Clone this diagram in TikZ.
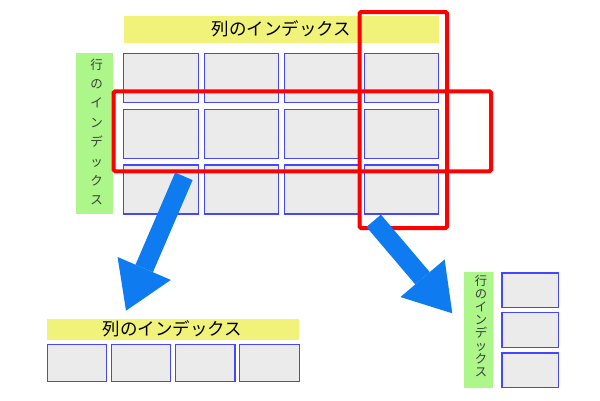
\documentclass[tikz,border=0pt]{standalone}
\usepackage{fontspec}
\setmainfont{Noto Sans CJK JP}
\usetikzlibrary{arrows.meta}
\definecolor{cellfill}{RGB}{235,235,235}
\definecolor{cellline}{RGB}{70,70,255}
\definecolor{banyellow}{RGB}{240,242,122}
\definecolor{bangreen}{RGB}{172,246,138}
\definecolor{arrowblue}{RGB}{14,124,240}
\definecolor{hired}{RGB}{255,0,0}
\definecolor{vtext}{RGB}{60,60,60}
\begin{document}
\begin{tikzpicture}[x=1pt,y=-1pt,
  cellbig/.style={draw=cellline,fill=cellfill,line width=1.2pt,inner sep=0pt,outer sep=0pt,minimum width=74.3pt,minimum height=49pt},
  cellsmall/.style={draw=cellline,fill=cellfill,line width=1.2pt,inner sep=0pt,outer sep=0pt,minimum width=59.4pt,minimum height=37.1pt},
  cellside/.style={draw=cellline,fill=cellfill,line width=1.2pt,inner sep=0pt,outer sep=0pt,minimum width=56.8pt,minimum height=34.8pt},
  ybanner/.style={fill=banyellow,inner sep=0pt,outer sep=0pt},
  gbanner/.style={fill=bangreen,inner sep=0pt,outer sep=0pt},
  hilite/.style={draw=hired,line width=4pt,rounded corners=1.5pt,inner sep=0pt,outer sep=0pt},
  bigarrow/.style={draw=arrowblue,line width=19pt,-{Triangle[width=58pt,length=46pt,line width=0pt]}},
  vlabel/.style={text=vtext,align=center,inner sep=0pt}
]
\useasboundingbox[fill=white] (0,0) rectangle (600,400);

% top column banner
\node[ybanner,minimum width=315pt,minimum height=27pt] (colban) at (281.5,29.5) {};
\node[inner sep=0pt,font=\fontsize{17.5}{20}\selectfont] (coltxt) at (281.5,28.5) {列のインデックス};

% top row banner
\node[gbanner,minimum width=37pt,minimum height=161pt] (rowban) at (94.5,133.5) {};
\node[vlabel,font=\fontsize{12.5}{19.4}\selectfont] (rowtxt) at (96.5,132) {行\\の\\イ\\ン\\デ\\ッ\\ク\\ス};

% main grid
\foreach \c/\x in {1/161,2/241.3,3/321.5,4/401.7}{
  \foreach \r/\y in {1/77.7,2/133.7,3/189.5}{
    \node[cellbig] (g\r\c) at (\x,\y) {};
  }
}

% highlights
\node[hilite,minimum width=377.3pt,minimum height=80pt] (rowhl) at (302.35,131.3) {};
\node[hilite,minimum width=87.5pt,minimum height=216pt] (colhl) at (403.25,120) {};

% bottom-left: column index result
\node[ybanner,minimum width=251.7pt,minimum height=21pt] (colban2) at (173.15,329.5) {};
\node[inner sep=0pt,font=\fontsize{17.5}{20}\selectfont] (coltxt2) at (172.5,329) {列のインデックス};
\foreach \c/\x in {1/77,2/141.15,3/205.35,4/269.5}{
  \node[cellsmall] (b\c) at (\x,363.15) {};
}

% bottom-right: row index result
\node[gbanner,minimum width=29.3pt,minimum height=115.4pt] (rowban2) at (478.65,330) {};
\node[vlabel,font=\fontsize{12.3}{13.1}\selectfont] (rowtxt2) at (481,326) {行\\の\\イ\\ン\\デ\\ッ\\ク\\ス};
\foreach \r/\y in {1/290.3,2/330.15,3/370.3}{
  \node[cellside] (s\r) at (530.3,\y) {};
}

% arrows
\coordinate (a1s) at (183.9,176.3);
\coordinate (a1e) at (126,310.7);
\coordinate (a2s) at (373.7,220.8);
\coordinate (a2e) at (452.3,313.3);
\draw[bigarrow] (a1s) -- (a1e);
\draw[bigarrow] (a2s) -- (a2e);
\end{tikzpicture}
\end{document}
